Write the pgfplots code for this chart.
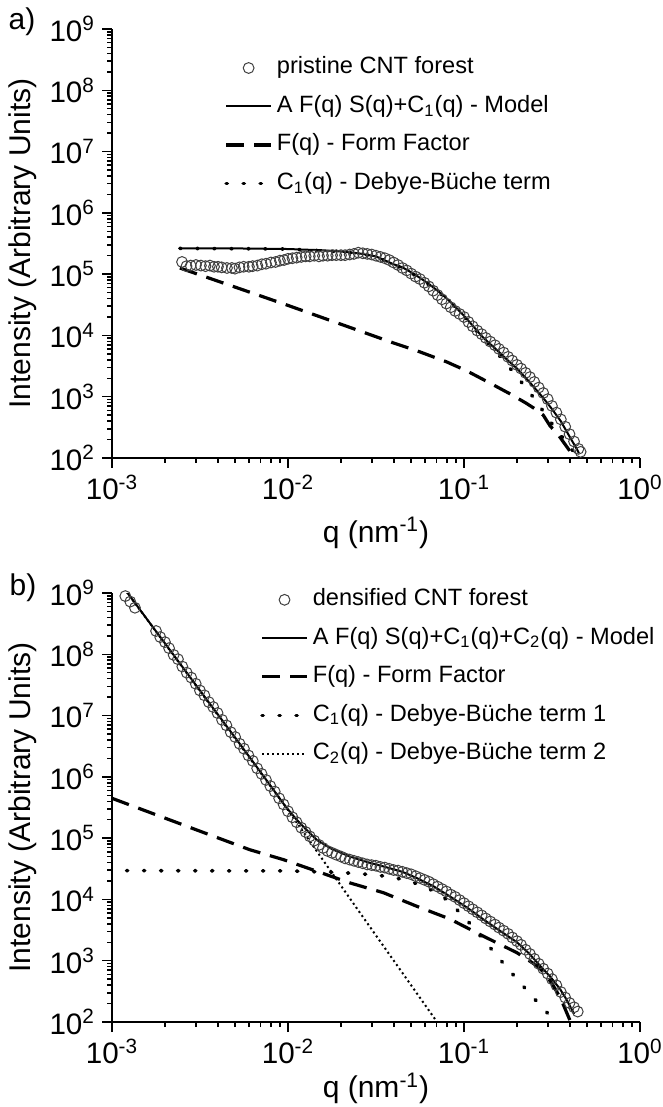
\documentclass[border=0pt]{standalone}
\usepackage{fontspec}
\setmainfont{Liberation Sans}
\usepackage{pgfplots}
\usepackage{pgfplotstable}
\pgfplotsset{compat=1.18}

\pgfplotstableread{
q I
0.0025 1.58e5
0.00265 1.35e5
0.0028 1.38e5
0.003 1.41e5
0.0032 1.38e5
0.0034 1.35e5
0.0036 1.38e5
0.0038 1.32e5
0.004 1.32e5
0.0042 1.29e5
0.0045 1.26e5
0.0048 1.26e5
0.005 1.23e5
0.0053 1.29e5
0.0056 1.32e5
0.006 1.32e5
0.0063 1.35e5
0.0067 1.38e5
0.0071 1.45e5
0.0075 1.48e5
0.008 1.55e5
0.0085 1.58e5
0.009 1.66e5
0.0095 1.70e5
0.01 1.78e5
0.0106 1.82e5
0.0112 1.86e5
0.0119 1.91e5
0.0126 1.95e5
0.0133 1.95e5
0.0141 2.00e5
0.015 1.95e5
0.0158 2.00e5
0.0168 2.00e5
0.0178 2.04e5
0.0188 2.04e5
0.02 2.04e5
0.0211 2.04e5
0.0224 2.09e5
0.0237 2.14e5
0.0251 2.24e5
0.0266 2.19e5
0.0282 2.14e5
0.0299 2.09e5
0.0316 2.00e5
0.0335 1.91e5
0.0355 1.82e5
0.0376 1.70e5
0.0398 1.55e5
0.0422 1.41e5
0.0447 1.26e5
0.0473 1.15e5
0.0501 1.02e5
0.0531 9.12e4
0.0562 8.32e4
0.0596 7.24e4
0.0631 6.31e4
0.0668 5.37e4
0.0708 4.57e4
0.075 3.89e4
0.0794 3.31e4
0.0841 2.88e4
0.0891 2.51e4
0.0944 2.24e4
0.1 2.00e4
0.106 1.66e4
0.112 1.41e4
0.119 1.20e4
0.126 1.05e4
0.133 9.12e3
0.141 7.94e3
0.15 6.92e3
0.158 6.03e3
0.168 5.25e3
0.178 4.47e3
0.188 3.89e3
0.2 3.31e3
0.211 2.88e3
0.224 2.45e3
0.237 2.09e3
0.251 1.74e3
0.266 1.41e3
0.282 1.15e3
0.299 912
0.316 708
0.335 550
0.355 427
0.376 324
0.398 245
0.422 186
0.447 141
0.46 126
}\pristine

\pgfplotstableread{
q I
0.00119 8.91e8
0.00127 7.24e8
0.00135 5.75e8
0.00178 2.40e8
0.00188 1.91e8
0.002 1.58e8
0.00211 1.26e8
0.00224 9.77e7
0.00237 8.32e7
0.00251 6.31e7
0.00266 5.01e7
0.00282 4.17e7
0.00299 3.31e7
0.00316 2.57e7
0.00335 2.14e7
0.00355 1.66e7
0.00376 1.38e7
0.00398 1.10e7
0.00422 8.51e6
0.00447 6.92e6
0.00473 5.37e6
0.00501 4.47e6
0.00531 3.47e6
0.00562 2.88e6
0.00596 2.24e6
0.00631 1.82e6
0.00668 1.38e6
0.00708 1.12e6
0.0075 8.91e5
0.00794 7.08e5
0.00841 5.75e5
0.00891 4.47e5
0.00944 3.55e5
0.01 2.75e5
0.0106 2.19e5
0.0112 1.82e5
0.0119 1.48e5
0.0126 1.26e5
0.0133 1.07e5
0.0141 9.12e4
0.015 7.76e4
0.0158 6.92e4
0.0168 6.17e4
0.0178 5.75e4
0.0188 5.37e4
0.02 5.01e4
0.0211 4.68e4
0.0224 4.47e4
0.0237 4.27e4
0.0251 4.07e4
0.0266 3.89e4
0.0282 3.72e4
0.0299 3.63e4
0.0316 3.55e4
0.0335 3.39e4
0.0355 3.31e4
0.0376 3.16e4
0.0398 3.02e4
0.0422 2.95e4
0.0447 2.82e4
0.0473 2.69e4
0.0501 2.57e4
0.0531 2.40e4
0.0562 2.24e4
0.0596 2.09e4
0.0631 1.95e4
0.0668 1.78e4
0.0708 1.62e4
0.075 1.48e4
0.0794 1.35e4
0.0841 1.20e4
0.0891 1.10e4
0.0944 9.77e3
0.1 8.71e3
0.106 7.76e3
0.112 6.92e3
0.119 6.17e3
0.126 5.50e3
0.133 4.90e3
0.141 4.37e3
0.15 3.89e3
0.158 3.47e3
0.168 3.09e3
0.178 2.75e3
0.188 2.40e3
0.2 2.09e3
0.211 1.82e3
0.224 1.51e3
0.237 1.29e3
0.251 1.07e3
0.266 891
0.282 741
0.299 617
0.316 501
0.335 398
0.355 309
0.376 251
0.398 204
0.422 174
0.443 148
}\densified

\newcommand{\tl}{\fontsize{14.8}{17}\selectfont}

\pgfplotsset{
  legend image code/.code={\path[draw=none,fill=none] (0pt,0pt) -- (22.5pt,0pt);
    \draw[mark repeat=2,mark phase=2,#1] plot coordinates {(0pt,0pt) (11.25pt,0pt) (22.5pt,0pt)};},
}

\begin{document}
\begin{tikzpicture}
\useasboundingbox (0,0) rectangle (331.5pt,-553.5pt);

\begin{axis}[at={(56pt,-229pt)}, anchor=south west,
    scale only axis, width=264pt, height=214.5pt,
    xmode=log, ymode=log,
    xmin=1e-3, xmax=1, ymin=1e2, ymax=1e9,
    axis x line*=bottom, axis y line*=left,
    axis line style={line width=0.75pt},
    tick align=outside,
    major tick length=5pt, minor tick length=2.5pt,
    tick style={black, line width=0.75pt},
    xtick={1e-3,1e-2,1e-1,1},
    xticklabels={{\tl 10\textsuperscript{-3}},{\tl 10\textsuperscript{-2}},{\tl 10\textsuperscript{-1}},{\tl 10\textsuperscript{0}}},
    ytick={1e2,1e3,1e4,1e5,1e6,1e7,1e8,1e9},
    yticklabels={{\tl 10\textsuperscript{2}},{\tl 10\textsuperscript{3}},{\tl 10\textsuperscript{4}},{\tl 10\textsuperscript{5}},{\tl 10\textsuperscript{6}},{\tl 10\textsuperscript{7}},{\tl 10\textsuperscript{8}},{\tl 10\textsuperscript{9}}},
    label style={font=\fontsize{15}{18}\selectfont},
    xlabel={q (nm\textsuperscript{-1})},
    ylabel={Intensity (Arbitrary Units)},
    xlabel style={at={(axis description cs:0.5,-0.175)}, anchor=center},
    ylabel style={at={(axis description cs:-0.1686,0.5)}, anchor=center},
    legend cell align=left,
    legend style={draw=none, fill=none, inner sep=0pt,
      font=\fontsize{11.8}{14}\selectfont, row sep=4.25pt,
      nodes={text height=8.5pt, text depth=2.5pt},
      at={(axis description cs:0.212,0.945)}, anchor=north west}]
\addplot[only marks, mark=o, mark size=2.7pt, mark options={black!75, line width=0.5pt}] table[x=q,y=I] {\pristine};
\addlegendentry{pristine CNT forest}
\addplot[black, line width=1pt, no marks] coordinates {
(0.00243,2.63e5) (0.005,2.63e5) (0.01,2.57e5) (0.0158,2.45e5) (0.02,2.34e5)
(0.0251,2.19e5) (0.0316,1.95e5) (0.0398,1.45e5) (0.0447,1.29e5) (0.0501,1.07e5)
(0.0562,8.71e4) (0.0631,6.92e4) (0.0708,5.37e4) (0.0794,4.07e4) (0.0891,2.95e4)
(0.1,2.09e4) (0.112,1.45e4) (0.126,9.77e3) (0.141,7.24e3) (0.158,5.37e3)
(0.178,3.89e3) (0.2,2.88e3) (0.224,2.04e3) (0.251,1.41e3) (0.282,955)
(0.316,631) (0.355,398) (0.398,224) (0.437,141) (0.45,120)};
\addlegendentry{A F(q) S(q)+C\textsubscript{1}(q) - Model}
\addplot[black, line width=1.6pt, dash pattern=on 9pt off 5pt, no marks] coordinates {
(0.00243,1.26e5) (0.01,3.09e4) (0.0225,1.35e4) (0.0395,7.59e3) (0.054,5.62e3)
(0.0794,3.72e3) (0.104,2.63e3) (0.141,1.66e3) (0.182,1.12e3) (0.224,794)
(0.26,603) (0.282,501) (0.309,331) (0.339,251) (0.363,191) (0.398,132) (0.427,89)};
\addlegendentry{F(q) - Form Factor}
\addplot[black, line width=1.8pt, line cap=round, dash pattern=on 0.6pt off 7.9pt, no marks] coordinates {
(0.00243,2.63e5) (0.01,2.57e5) (0.02,2.32e5) (0.0251,2.16e5) (0.0316,1.91e5)
(0.0398,1.45e5) (0.0501,1.05e5) (0.0631,6.76e4) (0.0794,4.07e4) (0.1,2.04e4)
(0.112,1.41e4) (0.126,9.55e3) (0.141,6.76e3) (0.158,4.79e3) (0.2,2.14e3)
(0.251,933) (0.316,363) (0.355,234) (0.398,158) (0.437,107)};
\addlegendentry{C\textsubscript{1}(q) - Debye-Büche term}
\end{axis}

\begin{axis}[at={(56pt,-511pt)}, anchor=south west,
    scale only axis, width=264pt, height=214.5pt,
    xmode=log, ymode=log,
    xmin=1e-3, xmax=1, ymin=1e2, ymax=1e9,
    axis x line*=bottom, axis y line*=left,
    axis line style={line width=0.75pt},
    tick align=outside,
    major tick length=5pt, minor tick length=2.5pt,
    tick style={black, line width=0.75pt},
    xtick={1e-3,1e-2,1e-1,1},
    xticklabels={{\tl 10\textsuperscript{-3}},{\tl 10\textsuperscript{-2}},{\tl 10\textsuperscript{-1}},{\tl 10\textsuperscript{0}}},
    ytick={1e2,1e3,1e4,1e5,1e6,1e7,1e8,1e9},
    yticklabels={{\tl 10\textsuperscript{2}},{\tl 10\textsuperscript{3}},{\tl 10\textsuperscript{4}},{\tl 10\textsuperscript{5}},{\tl 10\textsuperscript{6}},{\tl 10\textsuperscript{7}},{\tl 10\textsuperscript{8}},{\tl 10\textsuperscript{9}}},
    label style={font=\fontsize{15}{18}\selectfont},
    xlabel={q (nm\textsuperscript{-1})},
    ylabel={Intensity (Arbitrary Units)},
    xlabel style={at={(axis description cs:0.5,-0.155)}, anchor=center},
    ylabel style={at={(axis description cs:-0.1686,0.5)}, anchor=center},
    legend cell align=left,
    legend style={draw=none, fill=none, inner sep=0pt,
      font=\fontsize{11.8}{14}\selectfont, row sep=4.25pt,
      nodes={text height=8.5pt, text depth=2.5pt},
      at={(axis description cs:0.28,1.02)}, anchor=north west}]
\addplot[only marks, mark=o, mark size=2.7pt, mark options={black!75, line width=0.5pt}] table[x=q,y=I] {\densified};
\addlegendentry{densified CNT forest}
\addplot[black, line width=1pt, no marks] coordinates {
(0.00121,1.05e9) (0.002,1.51e8) (0.00316,2.57e7) (0.00501,4.37e6) (0.00631,1.78e6)
(0.00794,7.24e5) (0.00938,3.72e5) (0.01,2.95e5) (0.0112,2.0e5) (0.0126,1.41e5)
(0.0146,9.33e4) (0.0178,6.61e4) (0.0225,5.01e4) (0.0282,4.07e4) (0.0347,3.47e4)
(0.0447,2.82e4) (0.0538,2.24e4) (0.0676,1.62e4) (0.0832,1.12e4) (0.105,7.24e3)
(0.128,4.79e3) (0.158,3.16e3) (0.2,2.0e3) (0.234,1.32e3) (0.27,832)
(0.309,550) (0.351,347) (0.38,240) (0.407,166) (0.422,135)};
\addlegendentry{A F(q) S(q)+C\textsubscript{1}(q)+C\textsubscript{2}(q) - Model}
\addplot[black, line width=1.6pt, dash pattern=on 9pt off 5pt, no marks] coordinates {
(0.001,4.47e5) (0.00316,1.30e5) (0.00608,6.46e4) (0.0094,4.47e4) (0.0146,2.88e4)
(0.0225,1.86e4) (0.0348,1.29e4) (0.0538,7.76e3) (0.0832,4.79e3) (0.129,2.51e3)
(0.2,1.35e3) (0.259,832) (0.282,661) (0.316,427) (0.355,240) (0.385,138) (0.407,95)};
\addlegendentry{F(q) - Form Factor}
\addplot[black, line width=1.8pt, line cap=round, dash pattern=on 0.6pt off 7.9pt, no marks] coordinates {
(0.00121,2.95e4) (0.01,2.92e4) (0.02,2.75e4) (0.0316,2.51e4) (0.0398,2.29e4)
(0.0501,1.95e4) (0.0631,1.51e4) (0.0794,1.0e4) (0.1,5.25e3) (0.126,2.40e3)
(0.158,1.10e3) (0.2,501) (0.251,240) (0.295,145) (0.331,95)};
\addlegendentry{C\textsubscript{1}(q) - Debye-Büche term 1}
\addplot[black, line width=1pt, dash pattern=on 1pt off 1.5pt, no marks] coordinates {
(0.00121,1.05e9) (0.00316,2.51e7) (0.00938,3.72e5) (0.0251,6.61e3) (0.0684,112) (0.0724,89)};
\addlegendentry{C\textsubscript{2}(q) - Debye-Büche term 2}
\end{axis}

\node[font=\fontsize{15}{18}\selectfont] at (11pt,-11pt) {a)};
\node[font=\fontsize{15}{18}\selectfont] at (11.5pt,-294pt) {b)};
\end{tikzpicture}
\end{document}
